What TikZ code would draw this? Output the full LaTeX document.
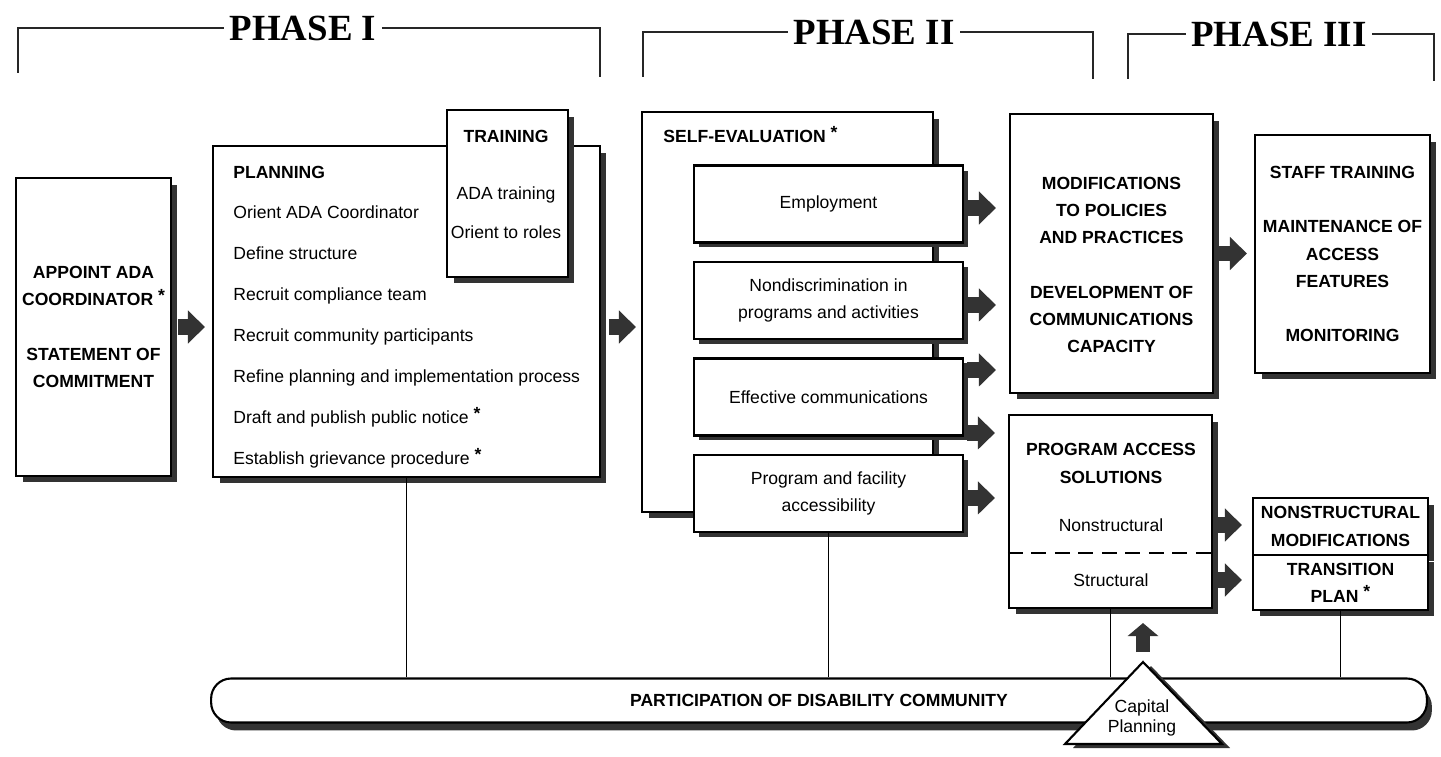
\documentclass[tikz,border=0pt]{standalone}
\usepackage{fontspec}
\setmainfont{Liberation Sans}
\newfontfamily\phasefont{Liberation Serif}
\usetikzlibrary{arrows.meta,shadows,positioning}
\definecolor{shade}{gray}{0.2}
\tikzstyle{box} = [draw, rectangle, fill=white, line width=1.2pt, align=center]
\tikzstyle{block} = [box, font=\bfseries\fontsize{10}{15.5}\selectfont, general shadow={fill=shade, shadow xshift=1.3mm, shadow yshift=-1.3mm}]
\tikzstyle{subblock} = [box, font=\fontsize{10}{15.5}\selectfont, minimum width=5.38cm, minimum height=1.54cm, general shadow={fill=shade, shadow xshift=1mm, shadow yshift=-1mm}]
\tikzstyle{listitem} = [anchor=base west, inner sep=0pt, font=\fontsize{10}{12}\selectfont]
\tikzstyle{heading} = [listitem, font=\bfseries\fontsize{10}{12}\selectfont]
\tikzstyle{boxtext} = [align=center, inner sep=0pt, font=\bfseries\fontsize{10}{15.5}\selectfont]
\tikzstyle{plaintext} = [boxtext, font=\fontsize{10}{11.4}\selectfont]
\tikzstyle{phasetitle} = [inner xsep=3pt, inner ysep=0pt, font=\phasefont\bfseries\fontsize{21}{21}\selectfont]
\tikzstyle{phasebracket} = [line width=1pt, draw=black!85]
\tikzstyle{bigarrow} = [draw=shade, line width=0.32cm, -{Triangle[width=0.64cm,length=0.34cm]}]
\tikzstyle{uparrow} = [draw=shade, line width=0.28cm, -{Triangle[width=0.6cm,length=0.26cm]}]
\tikzstyle{commline} = [line width=0.8pt]
\tikzstyle{divider} = [line width=1pt, dash pattern=on 0.3cm off 0.17cm]
\tikzstyle{ribbon} = [draw, fill=white, line width=1.2pt, rounded corners=0.4cm, minimum width=24.32cm, minimum height=0.88cm, font=\bfseries\fontsize{10}{12}\selectfont, general shadow={fill=shade, shadow xshift=0.1cm, shadow yshift=-0.16cm}]
\tikzstyle{capshape} = [draw, fill=white, line width=1.2pt, general shadow={fill=shade, shadow xshift=0.16cm, shadow yshift=-0.08cm}]
\newcommand{\reqmark}{~\raisebox{2.5pt}{\bfseries *}}

\begin{document}
\begin{tikzpicture}[x=0.02cm, y=-0.02cm, node distance=1.93cm]
\useasboundingbox (0,0) rectangle (1441,757);

\node [phasetitle] (phase1) at (303,28) {PHASE I};
\node [phasetitle] (phase2) at (874,32) {PHASE II};
\node [phasetitle] (phase3) at (1279,34) {PHASE III};
\draw [phasebracket] (18,73) |- (phase1.west);
\draw [phasebracket] (phase1.east) -| (600,77);
\draw [phasebracket] (643,77) |- (phase2.west);
\draw [phasebracket] (phase2.east) -| (1093,79);
\draw [phasebracket] (1128,79) |- (phase3.west);
\draw [phasebracket] (phase3.east) -| (1434,81);

\node [block, minimum width=3.10cm, minimum height=5.96cm] (appoint) at (93.5,327) {APPOINT ADA\\COORDINATOR\reqmark\\[15.5pt]STATEMENT OF\\COMMITMENT};

\node [block, minimum width=7.74cm, minimum height=6.62cm] (planning) at (406.5,311.5) {};
\node [block, minimum width=2.42cm, minimum height=3.34cm] (training) at (507.5,193.5) {};
\node [heading] (plan0) at (233,178) {PLANNING};
\node [listitem] (plan1) at ([yshift=-0.82cm]plan0.base west) {Orient ADA Coordinator};
\node [listitem] (plan2) at ([yshift=-0.82cm]plan1.base west) {Define structure};
\node [listitem] (plan3) at ([yshift=-0.82cm]plan2.base west) {Recruit compliance team};
\node [listitem] (plan4) at ([yshift=-0.82cm]plan3.base west) {Recruit community participants};
\node [listitem] (plan5) at ([yshift=-0.82cm]plan4.base west) {Refine planning and implementation process};
\node [listitem] (plan6) at ([yshift=-0.82cm]plan5.base west) {Draft and publish public notice\reqmark};
\node [listitem] (plan7) at ([yshift=-0.82cm]plan6.base west) {Establish grievance procedure\reqmark};
\node [heading, anchor=base] (train0) at (506,143) {TRAINING};
\node [listitem, anchor=base] (train1) at (506,199) {ADA training};
\node [listitem, anchor=base] (train2) at ([yshift=-0.8cm]train1.base) {Orient to roles};

\node [block, minimum width=5.82cm, minimum height=8cm] (selfeval) at (787.5,312) {};
\node [heading] (selfeval0) at (663,143) {SELF-EVALUATION\reqmark};
\node [subblock] (employ) at (828.5,204) {Employment};
\node [subblock, below of=employ] (nondisc) {Nondiscrimination in\\programs and activities};
\node [subblock, below of=nondisc] (effcomm) {Effective communications};
\node [subblock, below of=effcomm] (progfac) {Program and facility\\accessibility};

\node [block, minimum width=4.06cm, minimum height=5.58cm] (mods) at (1111.5,253.5) {};
\node [boxtext] (modstext) at (1111.5,265) {MODIFICATIONS\\TO POLICIES\\AND PRACTICES\\[15.5pt]DEVELOPMENT OF\\COMMUNICATIONS\\CAPACITY};
\node [block, minimum width=3.5cm, minimum height=4.76cm] (staff) at (1342.5,254) {STAFF TRAINING\\[15.5pt]MAINTENANCE OF\\ACCESS\\FEATURES\\[15.5pt]MONITORING};

\node [block, minimum width=4.06cm, minimum height=3.86cm] (progacc) at (1110.5,511.5) {};
\node [boxtext] (patext) at (1111,463.5) {PROGRAM ACCESS\\SOLUTIONS};
\node [plaintext] (nonstruct) at (1111,525) {Nonstructural};
\node [plaintext] (struct) at (1111,580) {Structural};
\draw [divider] ([yshift=-0.83cm]progacc.west) -- ([yshift=-0.83cm]progacc.east);
\node [block, minimum width=3.5cm, minimum height=1.14cm] (nsmod) at (1340.5,526.5) {NONSTRUCTURAL\\MODIFICATIONS};
\node [block, minimum width=3.5cm, minimum height=1.1cm] (transplan) at (1340.5,582.5) {TRANSITION\\PLAN\reqmark};

\node [ribbon] (community) at (819,700.5) {PARTICIPATION OF DISABILITY COMMUNITY};
\draw [commline] (planning.south) -- (planning.south |- community.north);
\draw [commline] (progfac.south) -- (progfac.south |- community.north);
\draw [commline] (progacc.south) -- (progacc.south |- community.north);
\draw [commline] (transplan.south) -- (transplan.south |- community.north);

\coordinate (apex) at (1143,662);
\draw [capshape] (apex) -- (1222,744) -- (1065,744) -- cycle;
\node [plaintext] (capital) at (1142,718) {Capital\\Planning};

\draw [bigarrow, shorten <=0.12cm, shorten >=0.14cm] (appoint.east) -- (appoint.east -| planning.west);
\draw [bigarrow, shorten <=0.16cm, shorten >=0.1cm] ([yshift=-0.31cm]planning.east) -- ([yshift=-0.31cm]planning.east -| selfeval.west);
\draw [bigarrow, shorten <=0.06cm, shorten >=0.26cm] ([yshift=-0.08cm]employ.east) -- ([yshift=-0.08cm]employ.east -| mods.west);
\draw [bigarrow, shorten <=0.06cm, shorten >=0.26cm] ([yshift=-0.09cm]nondisc.east) -- ([yshift=-0.09cm]nondisc.east -| mods.west);
\draw [bigarrow, shorten <=0.06cm, shorten >=0.26cm] ([yshift=0.54cm]effcomm.east) -- ([yshift=0.54cm]effcomm.east -| mods.west);
\draw [bigarrow, shorten <=0.06cm, shorten >=0.26cm] ([yshift=-0.72cm]effcomm.east) -- ([yshift=-0.72cm]effcomm.east -| progacc.west);
\draw [bigarrow, shorten <=0.06cm, shorten >=0.26cm] ([yshift=-0.09cm]progfac.east) -- ([yshift=-0.09cm]progfac.east -| progacc.west);
\draw [bigarrow, shorten <=0.1cm, shorten >=0.14cm] (mods.east) -- (mods.east -| staff.west);
\draw [bigarrow, shorten <=0.06cm, shorten >=0.2cm] (progacc.east |- nonstruct) -- (nsmod.west |- nonstruct);
\draw [bigarrow, shorten <=0.06cm, shorten >=0.2cm] (progacc.east |- struct) -- (transplan.west |- struct);
\draw [uparrow, shorten <=0.2cm, shorten >=0.28cm] (apex) -- (apex |- progacc.south);

\end{tikzpicture}
\end{document}
